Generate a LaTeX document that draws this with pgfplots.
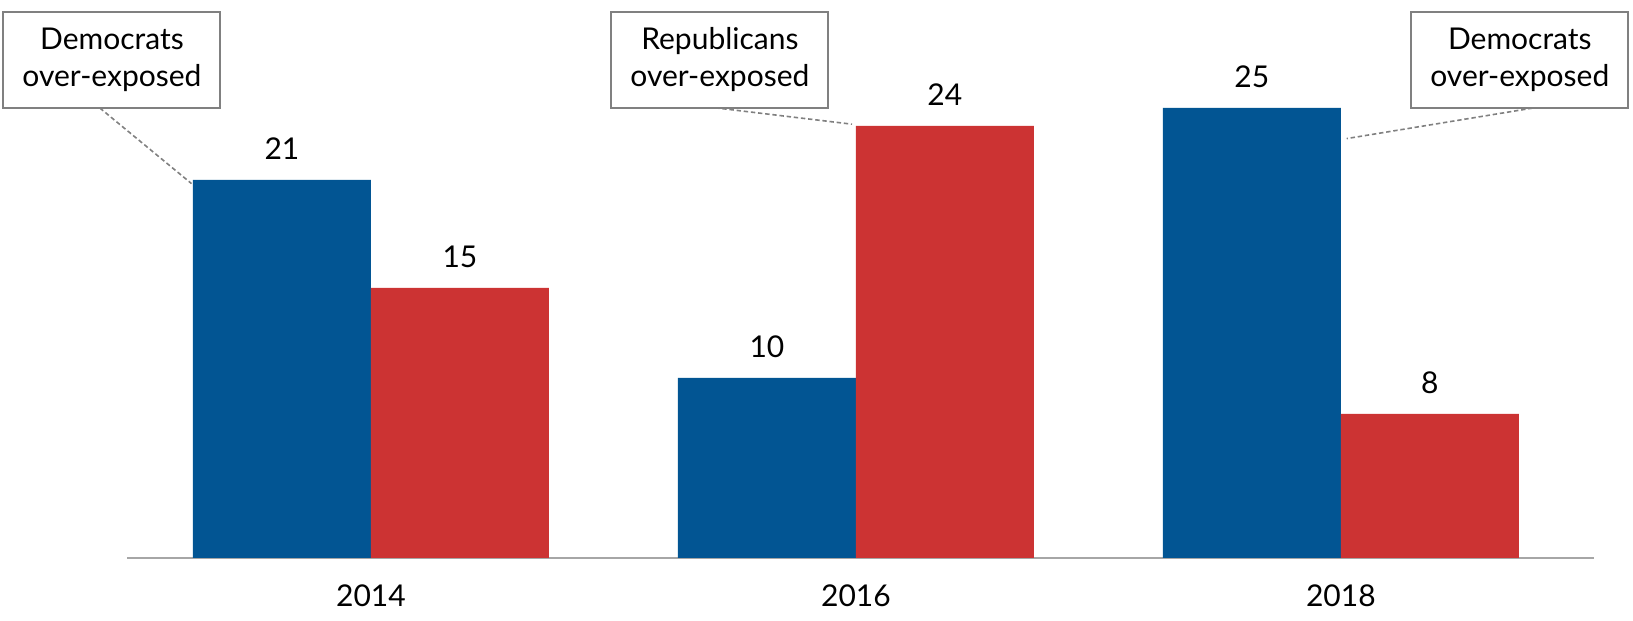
\documentclass[border=0pt]{standalone}
\usepackage{pgfplots}
\pgfplotsset{compat=1.18}
\usepackage{fontspec}
\setmainfont{Lato}
\definecolor{demblue}{HTML}{025593}
\definecolor{repred}{HTML}{CC3333}
\definecolor{boxgray}{HTML}{808080}
\definecolor{axgray}{HTML}{A6A6A6}
\begin{document}
\begin{tikzpicture}
\useasboundingbox (0,0) rectangle (816.5pt,310.5pt);
\begin{axis}[
  at={(63.5pt,31.5pt)}, anchor=south west,
  scale only axis, width=733.5pt, height=279pt,
  xmin=-0.503, xmax=2.522, ymin=0, ymax=31,
  clip=false,
  /pgf/number format/assume math mode=true,
  axis y line=none,
  axis x line*=bottom,
  x axis line style={axgray, line width=1pt, -},
  xtick={0,1,2}, xticklabels={2014,2016,2018},
  major tick length=0pt,
  xticklabel style={anchor=base, yshift=-24.5pt, font=\fontsize{15}{18}\selectfont},
  ytick=\empty,
  ybar, bar width=0.367,
  nodes near coords,
  every node near coord/.append style={anchor=base, yshift=10pt, font=\fontsize{15}{18}\selectfont, black},
]
\addplot[fill=demblue, draw=none, bar shift=-0.1835] coordinates {(0,21) (1,10) (2,25)};
\addplot[fill=repred, draw=none, bar shift=0.1835] coordinates {(0,15) (1,24) (2,8)};

\draw[boxgray, dash pattern=on 2.2pt off 1.4pt, line width=0.8pt] (axis cs:-0.559,25.0) -- (axis cs:-0.370,20.8);
\draw[boxgray, dash pattern=on 2.2pt off 1.4pt, line width=0.8pt] (axis cs:0.695,25.06) -- (axis cs:0.992,24.1);
\draw[boxgray, dash pattern=on 2.2pt off 1.4pt, line width=0.8pt] (axis cs:2.41,25.06) -- (axis cs:2.012,23.3);

\tikzset{ann/.style={draw=boxgray, line width=1pt, fill=white, minimum width=108.5pt, minimum height=48pt, inner sep=2pt, align=center, font=\fontsize{15}{18.5}\selectfont}}
\node[ann] at (axis cs:-0.534,27.67) {Democrats\\over-exposed};
\node[ann] at (axis cs:0.7196,27.67) {Republicans\\over-exposed};
\node[ann] at (axis cs:2.369,27.67) {Democrats\\over-exposed};
\end{axis}
\end{tikzpicture}
\end{document}
